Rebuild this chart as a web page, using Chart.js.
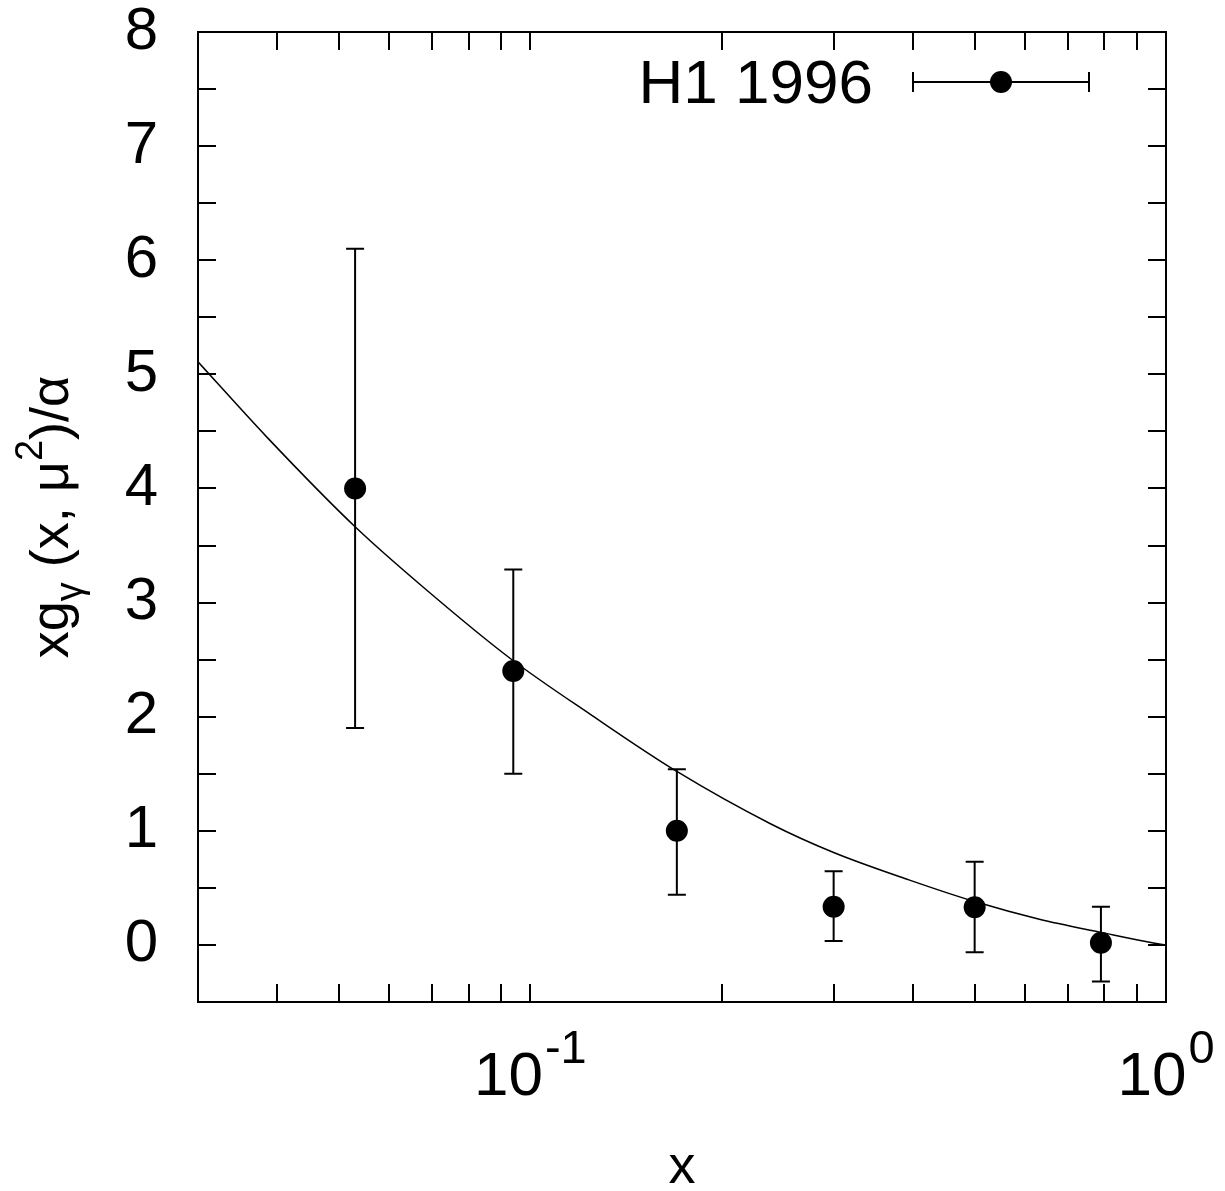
<!DOCTYPE html>
<html><head><meta charset="utf-8">
<script src="https://cdn.jsdelivr.net/npm/chart.js@4.4.0/dist/chart.umd.min.js"></script>
<style>html,body{margin:0;padding:0;background:#fff;}#wrap{width:1225px;height:1191px;}</style>
</head><body><div id="wrap"><canvas id="c" width="1225" height="1191"></canvas></div>
<script>
// ---- data ----
const pointX   = [0.053, 0.094, 0.17, 0.30, 0.50, 0.79];
const pointY   = [4.00, 2.40, 1.00, 0.335, 0.33, 0.02];
const errLow   = [1.90, 1.50, 0.44, 0.035, -0.065, -0.32];
const errHigh  = [6.10, 3.29, 1.54, 0.645, 0.73, 0.335];
const curveX   = [0.03, 0.0385, 0.0531, 0.068, 0.093, 0.1243, 0.17, 0.239, 0.30, 0.394, 0.50, 0.632, 0.79, 0.96, 1.0];
const curveY   = [5.11, 4.45, 3.66, 3.13, 2.51, 2.02, 1.52, 1.06, 0.81, 0.57, 0.38, 0.225, 0.11, 0.015, 0.0];
const yTickLabels = [0, 1, 2, 3, 4, 5, 6, 7, 8];
const yTickMarks  = [0, 0.5, 1, 1.5, 2, 2.5, 3, 3.5, 4, 4.5, 5, 5.5, 6, 6.5, 7, 7.5];
const xTickMarks  = [0.04, 0.05, 0.06, 0.07, 0.08, 0.09, 0.1, 0.2, 0.3, 0.4, 0.5, 0.6, 0.7, 0.8, 0.9];
const xTickLabels = [0.1, 1];
const xTickExp    = ['-1', '0'];
const legendLabel = 'H1 1996';

const FONT = '"Liberation Sans", Arial, Helvetica, sans-serif';

const deco = {
  id: 'deco',
  beforeDatasetsDraw(chart) {
    const ctx = chart.ctx, xs = chart.scales.x, ys = chart.scales.y;
    ctx.save();
    ctx.strokeStyle = '#000'; ctx.lineWidth = 2;
    for (let i = 0; i < pointX.length; i++) {
      const px = xs.getPixelForValue(pointX[i]);
      const lo = ys.getPixelForValue(errLow[i]);
      const hi = ys.getPixelForValue(errHigh[i]);
      ctx.beginPath();
      ctx.moveTo(px, lo); ctx.lineTo(px, hi);
      ctx.moveTo(px - 9, lo); ctx.lineTo(px + 9, lo);
      ctx.moveTo(px - 9, hi); ctx.lineTo(px + 9, hi);
      ctx.stroke();
    }
    ctx.restore();
  },
  afterDraw(chart) {
    const ctx = chart.ctx, xs = chart.scales.x, ys = chart.scales.y, a = chart.chartArea;
    ctx.save();
    ctx.strokeStyle = '#000'; ctx.lineWidth = 2;
    // frame
    ctx.strokeRect(a.left, a.top, a.right - a.left, a.bottom - a.top);
    // ticks (inside, all four sides)
    const TL = 18;
    ctx.beginPath();
    xTickMarks.forEach(v => {
      const px = Math.round(xs.getPixelForValue(v));
      ctx.moveTo(px, a.bottom); ctx.lineTo(px, a.bottom - TL);
      ctx.moveTo(px, a.top); ctx.lineTo(px, a.top + TL);
    });
    yTickMarks.forEach(v => {
      const py = Math.round(ys.getPixelForValue(v));
      ctx.moveTo(a.left, py); ctx.lineTo(a.left + TL, py);
      ctx.moveTo(a.right, py); ctx.lineTo(a.right - TL, py);
    });
    ctx.stroke();

    ctx.fillStyle = '#000';
    // x tick labels with superscripts
    ctx.textBaseline = 'alphabetic';
    ctx.textAlign = 'left';
    xTickLabels.forEach((v, i) => {
      const px = xs.getPixelForValue(v);
      ctx.font = '62px ' + FONT;
      const w1 = ctx.measureText('10').width;
      ctx.font = '47px ' + FONT;
      const w2 = ctx.measureText(xTickExp[i]).width;
      const start = px - (w1 + 2 + w2) / 2;
      ctx.font = '62px ' + FONT;
      ctx.fillText('10', start, 1095);
      ctx.font = '47px ' + FONT;
      ctx.fillText(xTickExp[i], start + w1 + 2, 1063);
    });
    // x axis title
    ctx.font = '54px ' + FONT;
    ctx.textAlign = 'center';
    ctx.fillText('x', (a.left + a.right) / 2, 1183);

    // y axis title (rotated)
    const segs = [
      {t: 'xg', s: 54, dy: 0},
      {t: '\u03B3', s: 38, dy: 14},
      {t: ' (x, \u03BC', s: 54, dy: 0},
      {t: '2', s: 38, dy: -26},
      {t: ')/\u03B1', s: 54, dy: 0}
    ];
    let total = 0;
    segs.forEach(g => { ctx.font = g.s + 'px ' + FONT; g.w = ctx.measureText(g.t).width; total += g.w; });
    ctx.save();
    ctx.translate(68, 517);
    ctx.rotate(-Math.PI / 2);
    ctx.textAlign = 'left';
    let u = -total / 2;
    segs.forEach(g => { ctx.font = g.s + 'px ' + FONT; ctx.fillText(g.t, u, g.dy); u += g.w; });
    ctx.restore();

    // legend
    ctx.font = '62px ' + FONT;
    ctx.textAlign = 'right';
    ctx.fillText(legendLabel, 873, 103);
    ctx.beginPath();
    ctx.moveTo(913, 82); ctx.lineTo(1089, 82);
    ctx.moveTo(913, 72); ctx.lineTo(913, 92);
    ctx.moveTo(1089, 72); ctx.lineTo(1089, 92);
    ctx.stroke();
    ctx.beginPath();
    ctx.arc(1001, 82, 11, 0, Math.PI * 2);
    ctx.fill();
    ctx.restore();
  }
};

new Chart(document.getElementById('c').getContext('2d'), {
  data: {
    datasets: [
      {
        type: 'line',
        data: curveX.map((x, i) => ({x: x, y: curveY[i]})),
        borderColor: '#000', borderWidth: 1.5,
        pointRadius: 0, cubicInterpolationMode: 'monotone', fill: false, order: 2
      },
      {
        type: 'scatter',
        data: pointX.map((x, i) => ({x: x, y: pointY[i]})),
        pointRadius: 11, pointHoverRadius: 11,
        backgroundColor: '#000', borderColor: '#000', borderWidth: 0, order: 1
      }
    ]
  },
  options: {
    responsive: false, animation: false, devicePixelRatio: 1,
    layout: {padding: {left: 0, right: 59, top: 32, bottom: 0}},
    plugins: {legend: {display: false}, tooltip: {enabled: false}},
    events: [],
    scales: {
      x: {
        type: 'logarithmic', min: 0.03, max: 1,
        grid: {display: false, drawTicks: false}, border: {display: false},
        ticks: {display: false},
        afterFit(s) { s.height = 1191 - 1002; s.paddingLeft = 0; s.paddingRight = 0; }
      },
      y: {
        type: 'linear', min: -0.5, max: 8,
        grid: {display: false, drawTicks: false}, border: {display: false},
        ticks: {font: {family: FONT, size: 60}, color: '#000', padding: 40},
        afterBuildTicks(s) { s.ticks = yTickLabels.map(v => ({value: v})); },
        afterFit(s) { s.width = 198; s.paddingTop = 0; s.paddingBottom = 0; }
      }
    }
  },
  plugins: [deco]
});
</script>
</body></html>
